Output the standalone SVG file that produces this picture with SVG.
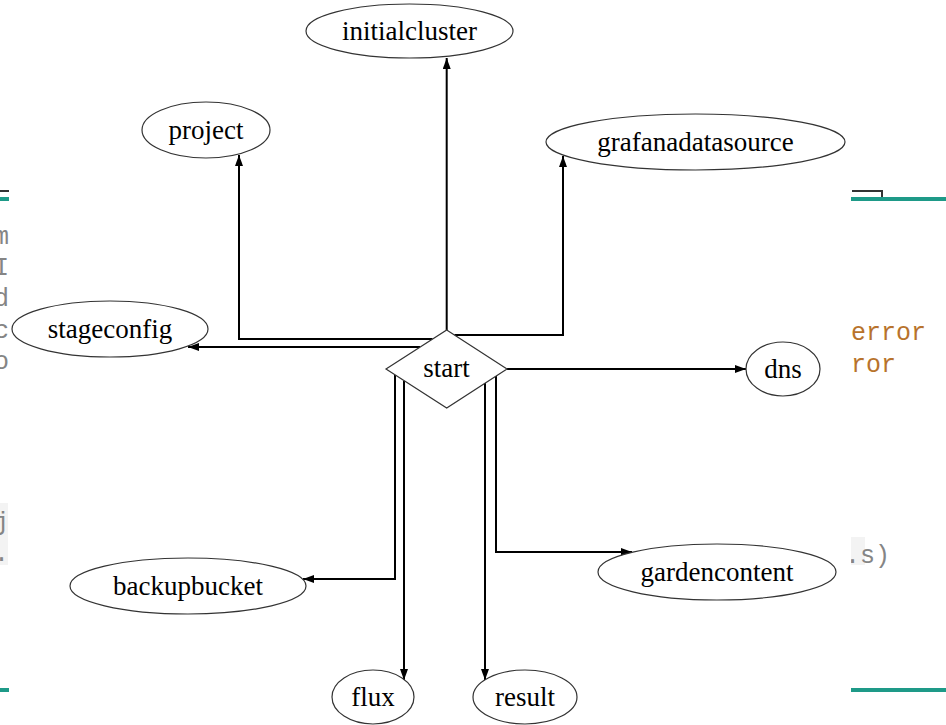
<svg xmlns="http://www.w3.org/2000/svg" width="946" height="725" viewBox="0 0 946 725">
  <style>
    .code { font-family: "Liberation Mono", "Courier New", monospace; font-size: 25px; fill: #858585; }
    .warn { fill: #b8732c; }
    .rule { stroke: #1e9a88; stroke-width: 4; }
    .node { fill: #ffffff; stroke: #333333; stroke-width: 1.2; }
    .label { font-family: "Liberation Serif", "Times New Roman", serif; font-size: 27px; fill: #000000; text-anchor: middle; }
    .edge { fill: none; stroke: #000000; stroke-width: 2; marker-end: url(#arrow); }
  </style>
  <defs>
    <marker id="arrow" markerUnits="userSpaceOnUse" markerWidth="12" markerHeight="8" refX="11" refY="4" orient="auto">
      <path d="M0,0 L11,4 L0,8 z" fill="#000000"/>
    </marker>
    <clipPath id="leftStrip"><rect x="0" y="0" width="9" height="725"/></clipPath>
    <clipPath id="rightStrip"><rect x="851" y="0" width="95" height="725"/></clipPath>
  </defs>

  <rect x="0" y="0" width="946" height="725" fill="#ffffff"/>

  <!-- editor text visible along the edges -->
  <g id="editor-left" clip-path="url(#leftStrip)">
    <rect x="0" y="503" width="8" height="62" fill="#f3f3f3"/>
    <line x1="0" y1="191" x2="9" y2="191" stroke="#333333" stroke-width="2"/>
    <line class="rule" x1="0" y1="199" x2="9" y2="199"/>
    <line class="rule" x1="0" y1="690" x2="9" y2="690"/>
    <text class="code" x="-6" y="244">m</text>
    <text class="code" x="-6" y="275">I</text>
    <text class="code" x="-6" y="306">d</text>
    <text class="code" x="-6" y="338">c</text>
    <text class="code" x="-6" y="369">o</text>
    <text class="code" x="-6" y="530">j</text>
    <text class="code" x="-6" y="561">.</text>
  </g>
  <g id="editor-right" clip-path="url(#rightStrip)">
    <rect x="850" y="537" width="15" height="28" fill="#f3f3f3"/>
    <polyline points="852,191 882,191 882,197" fill="none" stroke="#333333" stroke-width="2"/>
    <line class="rule" x1="851" y1="199" x2="946" y2="199"/>
    <line class="rule" x1="851" y1="690" x2="946" y2="690"/>
    <text class="code warn" x="851" y="340">error</text>
    <text class="code warn" x="851" y="372">ror</text>
    <text class="code" x="845" y="563">.s)</text>
  </g>

  <!-- connectors -->
  <g id="edges">
    <path class="edge" d="M446.7,330 V58"/>
    <path class="edge" d="M432.5,339 H239 V155"/>
    <path class="edge" d="M454.5,335 H563 V156"/>
    <path class="edge" d="M420,347 H188"/>
    <path class="edge" d="M507,369 H746"/>
    <path class="edge" d="M395,375 V579 H303"/>
    <path class="edge" d="M404,381 V680"/>
    <path class="edge" d="M485,383 V680"/>
    <path class="edge" d="M496,376 V552 H632"/>
  </g>

  <!-- nodes -->
  <g id="start">
    <polygon class="node" points="446.7,330 507,369 446.7,408 386,369"/>
    <text class="label" x="446.5" y="377">start</text>
  </g>
  <g id="initialcluster">
    <ellipse class="node" cx="409.5" cy="31" rx="103.5" ry="27"/>
    <text class="label" x="409.5" y="40">initialcluster</text>
  </g>
  <g id="project">
    <ellipse class="node" cx="206" cy="130" rx="64" ry="28"/>
    <text class="label" x="206" y="139">project</text>
  </g>
  <g id="grafanadatasource">
    <ellipse class="node" cx="695.5" cy="142" rx="149.5" ry="28"/>
    <text class="label" x="695.5" y="151">grafanadatasource</text>
  </g>
  <g id="stageconfig">
    <ellipse class="node" cx="110" cy="329" rx="98" ry="28"/>
    <text class="label" x="110" y="338">stageconfig</text>
  </g>
  <g id="dns">
    <ellipse class="node" cx="783" cy="369" rx="37" ry="27"/>
    <text class="label" x="783" y="378">dns</text>
  </g>
  <g id="backupbucket">
    <ellipse class="node" cx="188" cy="586" rx="118" ry="28"/>
    <text class="label" x="188" y="595">backupbucket</text>
  </g>
  <g id="gardencontent">
    <ellipse class="node" cx="717" cy="572" rx="119" ry="28"/>
    <text class="label" x="717" y="581">gardencontent</text>
  </g>
  <g id="flux">
    <ellipse class="node" cx="373" cy="697" rx="41" ry="27"/>
    <text class="label" x="373" y="706">flux</text>
  </g>
  <g id="result">
    <ellipse class="node" cx="525" cy="697" rx="52" ry="27"/>
    <text class="label" x="525" y="706">result</text>
  </g>
</svg>
